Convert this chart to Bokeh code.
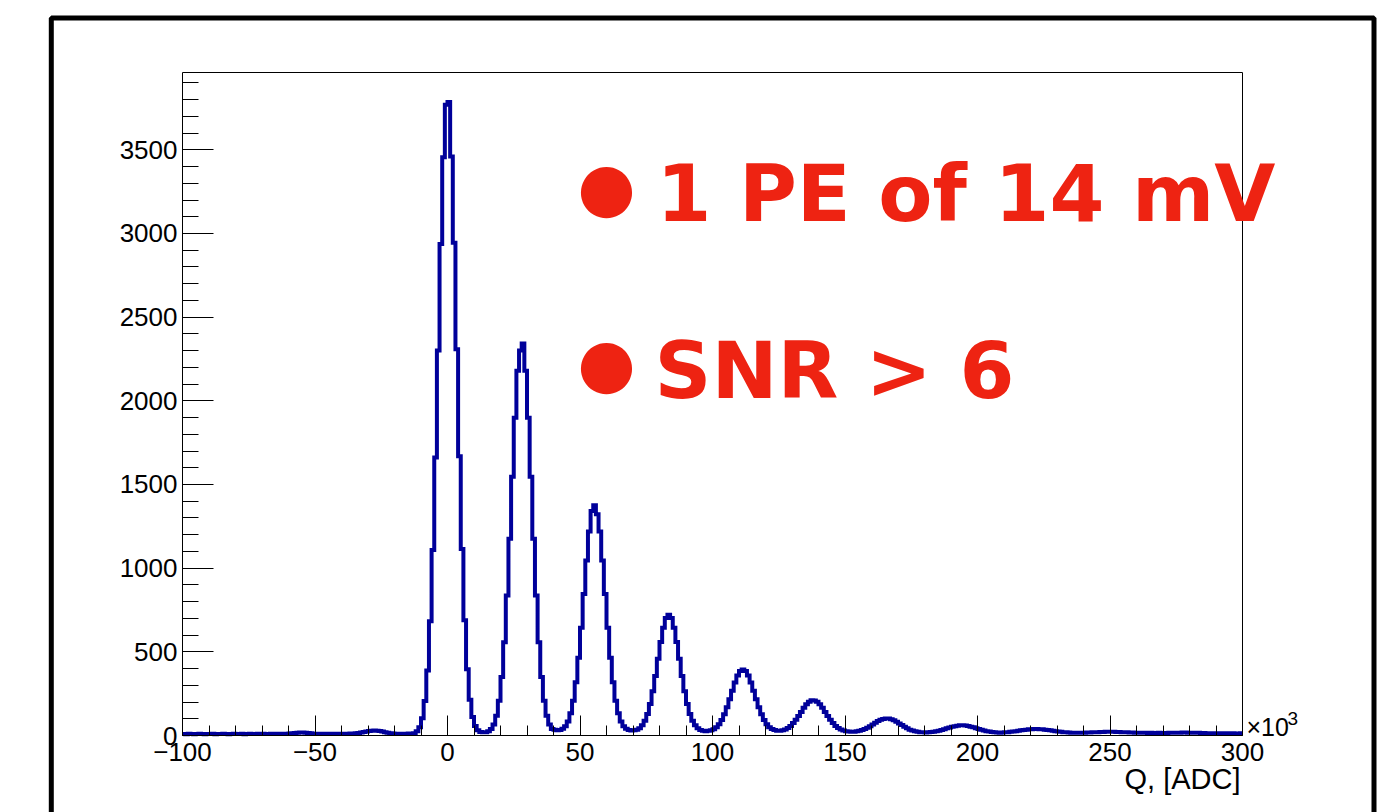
from bokeh.plotting import figure
from bokeh.models import FixedTicker, Label, BoxAnnotation, Range1d, LinearAxis
from bokeh.embed import file_html
from bokeh.resources import INLINE

# ---------------- data (Q in units of 10^3 ADC, 1k-wide bins) ----------------
q_lo_k = -100
q_hi_k = 300
bin_width_k = 1
counts = [
    9, 8, 10, 9, 8, 9, 10, 9, 8, 9,            # -100 .. -91
    9, 10, 8, 9, 9, 10, 9, 8, 9, 10,           # -90 .. -81
    9, 9, 10, 8, 9, 10, 9, 9, 10, 9,           # -80 .. -71
    10, 9, 9, 10, 11, 9, 10, 10, 11, 10,       # -70 .. -61
    12, 13, 15, 17, 18, 18, 17, 15, 13, 11,    # -60 .. -51
    10, 10, 11, 10, 9, 10, 11, 10, 11, 10,     # -50 .. -41
    11, 10, 11, 12, 11, 13, 15, 18, 21, 24,    # -40 .. -31
    27, 29, 30, 29, 27, 24, 20, 17, 14, 12,    # -30 .. -21
    11, 10, 11, 10, 11, 12, 12, 14, 25, 50,    # -20 .. -11
    103, 206, 389, 682, 1108, 1662, 2301, 2937, 3456, 3770,   # -10 .. -1
    3785, 3460, 2944, 2308, 1669, 1115, 689, 396, 213, 110,   # 0 .. 9
    57, 32, 21, 19, 19, 25, 39, 66, 118, 207,                 # 10 .. 19
    349, 557, 836, 1176, 1546, 1899, 2180, 2300, 2342, 2180,  # 20 .. 29
    1899, 1546, 1176, 836, 557, 349, 207, 118, 66, 39,        # 30 .. 39
    35, 32, 33, 40, 56, 84, 133, 208, 318, 464,               # 40 .. 49
    644, 846, 1046, 1219, 1342, 1376, 1322, 1219, 1046, 846,  # 50 .. 59
    644, 464, 318, 208, 133, 84, 56, 40, 33, 30,              # 60 .. 69
    31, 35, 44, 61, 88, 129, 188, 264, 356, 458,              # 70 .. 79
    558, 644, 702, 722, 702, 644, 558, 458, 356, 264,         # 80 .. 89
    188, 129, 88, 61, 44, 33, 28, 26, 28, 31,                 # 90 .. 99
    38, 50, 67, 93, 127, 169, 217, 268, 316, 358,             # 100 .. 109
    385, 394, 386, 358, 316, 268, 217, 169, 127, 93,          # 110 .. 119
    67, 50, 39, 33, 28, 28, 31, 36, 45, 57,                   # 120 .. 129
    74, 94, 117, 141, 166, 187, 202, 211, 209, 202,           # 130 .. 139
    187, 166, 141, 117, 94, 74, 57, 45, 36, 30,               # 140 .. 149
    26, 24, 22, 23, 25, 28, 33, 39, 47, 56,                   # 150 .. 159
    66, 76, 86, 94, 99, 102, 101, 97, 91, 82,                 # 160 .. 169
    72, 62, 52, 44, 35, 30, 25, 22, 20, 19,                   # 170 .. 179
    18, 19, 21, 23, 26, 29, 33, 38, 43, 48,                   # 180 .. 189
    52, 56, 59, 61, 61, 60, 57, 53, 49, 44,                   # 190 .. 199
    39, 34, 30, 26, 24, 21, 20, 18, 17, 18,                   # 200 .. 209
    19, 20, 22, 24, 26, 28, 31, 33, 35, 37,                   # 210 .. 219
    38, 39, 39, 38, 37, 35, 33, 31, 28, 26,                   # 220 .. 229
    24, 22, 20, 19, 18, 17, 16, 16, 16, 17,                   # 230 .. 239
    17, 18, 18, 19, 20, 20, 21, 21, 22, 22,                   # 240 .. 249
    22, 22, 21, 21, 20, 20, 19, 18, 18, 17,                   # 250 .. 259
    17, 16, 16, 16, 15, 16, 15, 15, 16, 15,                   # 260 .. 269
    15, 15, 16, 16, 17, 17, 17, 18, 18, 17,                   # 270 .. 279
    17, 17, 16, 16, 15, 15, 14, 14, 14, 13,                   # 280 .. 289
    14, 13, 13, 14, 13, 12, 13, 12, 12, 13,                   # 290 .. 299
]
x_major_ticks = [-100, -50, 0, 50, 100, 150, 200, 250, 300]
x_tick_labels = {-100: "\u2212100", -50: "\u221250"}
y_major_ticks = [0, 500, 1000, 1500, 2000, 2500, 3000, 3500]
y_max = 3962
x_title = "Q, [ADC]"
x_multiplier = "\u00d710"
x_multiplier_exp = "3"
note_1 = "1 PE of 14 mV"
note_2 = "SNR > 6"

edges = [q_lo_k + i * bin_width_k for i in range(len(counts) + 1)]
step_y = counts + [counts[-1]]

# ---------------- layout (pixels on the page) ----------------
W, H = 1381, 812
BOX_L, BOX_R, BOX_T, BOX_B = 182, 1242, 72, 735
kx = (BOX_R - BOX_L) / (q_hi_k - q_lo_k)     # px per 10^3 ADC
ky = (BOX_B - BOX_T) / y_max                  # px per count


def qx(px):
    return q_lo_k + (px - BOX_L) / kx


def cy(py):
    return (BOX_B - py) / ky


p = figure(width=W, height=H,
           x_range=Range1d(qx(0), qx(W)), y_range=Range1d(cy(H), cy(0)),
           output_backend="svg", toolbar_location=None, min_border=0)
p.background_fill_color = "white"
p.border_fill_color = "white"
p.grid.visible = False
p.outline_line_color = None

p.step(edges, step_y, mode="after", line_color="#00009a", line_width=4, line_join="miter")

AX_FONT = "Liberation Sans"
xa = p.xaxis[0]
xa.fixed_location = 0
xa.bounds = (q_lo_k, q_hi_k)
xa.ticker = FixedTicker(ticks=x_major_ticks, minor_ticks=list(range(-100, 301, 10)))
xa.major_label_overrides = x_tick_labels
xa.major_tick_in = 20
xa.major_tick_out = 0
xa.minor_tick_in = 10
xa.minor_tick_out = 0
xa.major_tick_line_color = "black"
xa.minor_tick_line_color = "black"
xa.axis_line_color = "black"
xa.major_label_text_font = AX_FONT
xa.major_label_text_font_size = "26px"
xa.major_label_text_color = "black"
xa.major_label_standoff = 7

ya = p.yaxis[0]
ya.fixed_location = q_lo_k
ya.bounds = (0, y_max)
ya.ticker = FixedTicker(ticks=y_major_ticks, minor_ticks=list(range(0, 4000, 100)))
ya.major_tick_in = 31
ya.major_tick_out = 0
ya.minor_tick_in = 16
ya.minor_tick_out = 0
ya.major_tick_line_color = "black"
ya.minor_tick_line_color = "black"
ya.axis_line_color = "black"
ya.major_label_text_font = AX_FONT
ya.major_label_text_font_size = "26px"
ya.major_label_text_color = "black"
ya.major_label_standoff = 5


def frame_axis(loc, bounds):
    ax = LinearAxis(fixed_location=loc, bounds=bounds, ticker=FixedTicker(ticks=[]),
                    major_tick_in=0, major_tick_out=0, minor_tick_in=0, minor_tick_out=0,
                    major_label_text_font_size="0px", axis_line_color="black", axis_line_width=1)
    return ax


p.add_layout(frame_axis(y_max, (q_lo_k, q_hi_k)), "above")
p.add_layout(frame_axis(q_hi_k, (0, y_max)), "right")

# x10^3 multiplier and axis title
p.add_layout(Label(x=qx(1246), y=cy(726), text=x_multiplier,
                   text_font=AX_FONT, text_font_size="25px", text_color="black",
                   text_align="left", text_baseline="alphabetic"))
p.add_layout(Label(x=qx(1287), y=cy(718), text=x_multiplier_exp,
                   text_font=AX_FONT, text_font_size="19px", text_color="black",
                   text_align="left", text_baseline="alphabetic"))
p.add_layout(Label(x=qx(1240), y=cy(778), text=x_title,
                   text_font=AX_FONT, text_font_size="29px", text_color="black",
                   text_align="right", text_baseline="alphabetic"))

# red notes
RED = "#ee2312"
for bpx, bpy, tpx, tpy, txt in [(606, 186, 656, 193, note_1), (606, 362, 654, 370, note_2)]:
    p.add_layout(Label(x=qx(bpx), y=cy(bpy), text="\u25cf", text_font="DejaVu Sans",
                       text_font_size="67px", text_color=RED, text_align="center",
                       text_baseline="middle"))
    p.add_layout(Label(x=qx(tpx), y=cy(tpy), text=txt, text_font="DejaVu Sans",
                       text_font_style="bold", text_font_size="79px", text_color=RED,
                       text_align="left", text_baseline="alphabetic"))

# outer thick frame
p.add_layout(BoxAnnotation(left=qx(50.8), right=qx(1373.5), top=cy(17.5), bottom=cy(H + 100),
                           fill_alpha=0, fill_color=None, line_color="black", line_alpha=1.0,
                           line_width=5, level="overlay"))

open("out.html", "w").write(file_html(p, INLINE))
